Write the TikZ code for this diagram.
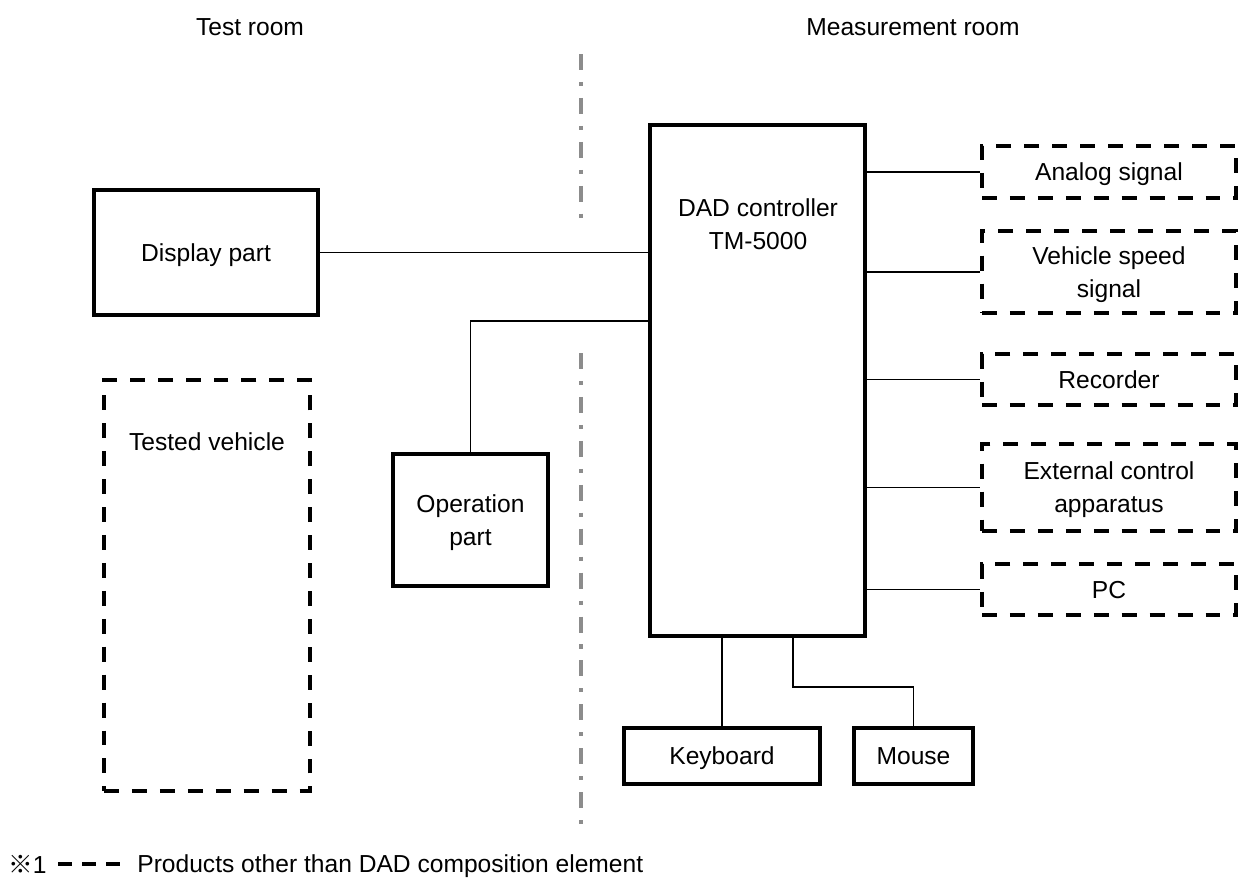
\documentclass[tikz,border=0pt]{standalone}
\usepackage{fontspec}
\setmainfont{Liberation Sans}
\newfontfamily\cjkfont{Noto Sans CJK JP}

\begin{document}
\begin{tikzpicture}[
  x=0.02cm, y=-0.02cm,
  every node/.style={align=center, inner sep=0pt, text depth=0pt, font=\fontsize{14}{18.8}\selectfont},
  box/.style={draw, line width=2.3pt},
  dbox/.style={draw, line width=2.3pt, dash pattern=on 8.5pt off 7.4pt},
  sigbox/.style={dbox, minimum width=5.08cm},
  wire/.style={line width=0.75pt},
  divider/.style={black!45, line width=2.3pt, dash pattern=on 9.1pt off 6.8pt on 2.3pt off 6.8pt}
]
\useasboundingbox (0,0) rectangle (1248,879);

% Rooms
\node (testroom) at (250,27) {Test room};
\node (measroom) at (913,27) {Measurement room};
\draw[divider] (581,54) -- (581,218);
\draw[divider] (581,353) -- (581,825);

% Test room side
\node[box, minimum width=4.48cm, minimum height=2.5cm] (disp) at (206,252.5) {Display part};
\node[dbox, minimum width=4.12cm, minimum height=8.22cm] (veh) at (207,585.5) {};
\node (vehtxt) at (207,442) {Tested vehicle};
\node[box, minimum width=3.1cm, minimum height=2.64cm] (op) at (470.5,520) {Operation\\part};

% Controller and its peripherals
\node[box, minimum width=4.3cm, minimum height=10.22cm] (dad) at (757.5,380.5) {};
\node (dadtxt) at (758,224) {DAD controller\\TM-5000};
\node[box, minimum width=3.92cm, minimum height=1.12cm] (kbd) at (722,756) {Keyboard};
\node[box, minimum width=2.38cm, minimum height=1.12cm] (mouse) at (913.5,756) {Mouse};

\node[sigbox, minimum height=1.04cm] (ana) at (1109,172) {Analog signal};
\node[sigbox, minimum height=1.64cm] (spd) at (1109,272) {Vehicle speed\\signal};
\node[sigbox, minimum height=1.02cm] (rec) at (1109,379.5) {Recorder};
\node[sigbox, minimum height=1.74cm] (ext) at (1109,487.5) {External control\\apparatus};
\node[sigbox, minimum height=1.02cm] (pc) at (1109,589.5) {PC};

% Wiring
\foreach \n in {ana,spd,rec,ext,pc}
  \draw[wire] (dad.east |- \n.west) -- (\n.west);
\draw[wire] (disp.east) -- (disp.east -| dad.west);
\draw[wire] (op.north) |- (dad.west |- 0,321);
\draw[wire] (kbd.north) -- (kbd.north |- dad.south);
\draw[wire] (dad.south -| 793,0) -- (793,687) -| (mouse.north);

% Legend
\node[anchor=west] (mark) at (8,864) {{\cjkfont ※}1};
\draw[line width=2.3pt, dash pattern=on 8pt off 5.7pt] (58,864) -- (121,864);
\node[anchor=west] (legtxt) at (137,864) {Products other than DAD composition element};

\end{tikzpicture}
\end{document}
